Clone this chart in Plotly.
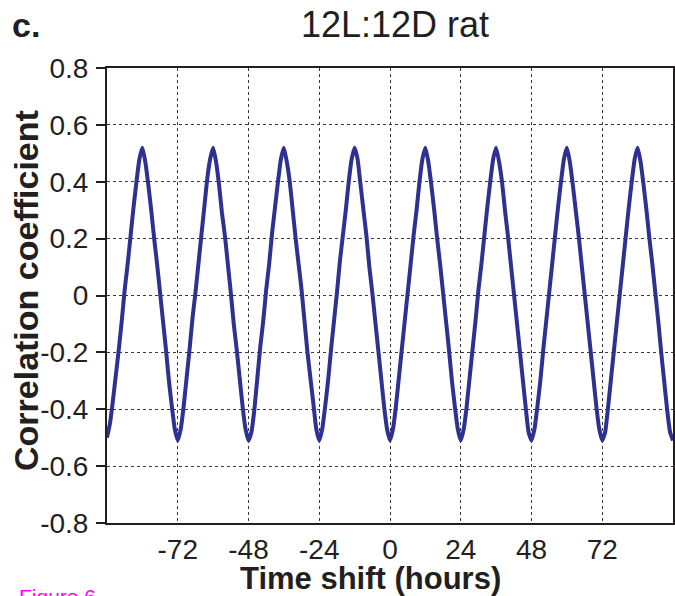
import plotly.graph_objects as go

# Time shift (hours), 1-hour steps from -96 to 96
time_shift = list(range(-96, 97))

# Correlation coefficient, one row per 24 h (starting at each trough)
correlation = [
    # -96 .. -73
    -0.50, -0.45, -0.37, -0.28, -0.19, -0.09, 0.02, 0.11, 0.21, 0.31, 0.40, 0.48,
    0.52, 0.47, 0.39, 0.30, 0.20, 0.11, 0.01, -0.09, -0.19, -0.30, -0.39, -0.47,
    # -72 .. -49
    -0.51, -0.47, -0.39, -0.29, -0.19, -0.08, 0.01, 0.11, 0.21, 0.31, 0.41, 0.48,
    0.52, 0.47, 0.39, 0.29, 0.21, 0.11, 0.01, -0.10, -0.19, -0.29, -0.39, -0.47,
    # -48 .. -25
    -0.51, -0.48, -0.40, -0.29, -0.18, -0.09, 0.02, 0.11, 0.22, 0.31, 0.40, 0.48,
    0.52, 0.47, 0.40, 0.30, 0.20, 0.11, 0.02, -0.09, -0.20, -0.29, -0.38, -0.47,
    # -24 .. -1
    -0.51, -0.47, -0.39, -0.30, -0.19, -0.09, 0.01, 0.12, 0.21, 0.30, 0.40, 0.48,
    0.52, 0.48, 0.39, 0.30, 0.21, 0.10, 0.01, -0.09, -0.19, -0.29, -0.39, -0.47,
    # 0 .. 23
    -0.51, -0.47, -0.39, -0.29, -0.19, -0.09, 0.01, 0.11, 0.21, 0.30, 0.40, 0.48,
    0.52, 0.47, 0.39, 0.30, 0.20, 0.11, 0.01, -0.09, -0.19, -0.30, -0.39, -0.47,
    # 24 .. 47
    -0.51, -0.47, -0.39, -0.29, -0.19, -0.09, 0.02, 0.11, 0.21, 0.31, 0.40, 0.48,
    0.52, 0.47, 0.40, 0.30, 0.21, 0.11, 0.01, -0.09, -0.19, -0.29, -0.39, -0.48,
    # 48 .. 71
    -0.51, -0.47, -0.39, -0.30, -0.19, -0.09, 0.01, 0.11, 0.21, 0.31, 0.40, 0.48,
    0.52, 0.47, 0.39, 0.30, 0.21, 0.11, 0.01, -0.09, -0.19, -0.29, -0.39, -0.47,
    # 72 .. 95
    -0.51, -0.48, -0.39, -0.29, -0.19, -0.09, 0.01, 0.11, 0.21, 0.31, 0.40, 0.48,
    0.52, 0.47, 0.39, 0.30, 0.20, 0.11, 0.01, -0.09, -0.20, -0.30, -0.40, -0.48,
    # 96
    -0.51,
]

x_tick_values = [-72, -48, -24, 0, 24, 48, 72]
x_tick_labels = ["-72", "-48", "-24", "0", "24", "48", "72"]
y_tick_values = [0.8, 0.6, 0.4, 0.2, 0.0, -0.2, -0.4, -0.6, -0.8]
y_tick_labels = ["0.8", "0.6", "0.4", "0.2", "0", "-0.2", "-0.4", "-0.6", "-0.8"]

INK = "#231f20"
NUM_FONT = "Liberation Sans Narrow, Arial Narrow, Liberation Sans, Arial, sans-serif"
TXT_FONT = "Liberation Sans, Arial, Helvetica, sans-serif"

W, H = 675, 596
# plot area in window pixels
L, R, T, B = 107, 673, 68, 523

fig = go.Figure()
fig.add_trace(go.Scatter(
    x=time_shift, y=correlation, mode="lines",
    line=dict(color="#2e3192", width=4, shape="spline", smoothing=0.4),
    hoverinfo="x+y", showlegend=False,
))

axis_common = dict(
    showline=True, linecolor=INK, linewidth=2, mirror=True,
    showgrid=True, gridcolor="#3a3a3a", gridwidth=1, griddash="dot",
    zeroline=False, automargin=False,
    tickfont=dict(family=NUM_FONT, size=28, color=INK),
)

fig.update_layout(
    width=W, height=H,
    margin=dict(l=L, r=W - R, t=T, b=H - B),
    paper_bgcolor="white", plot_bgcolor="white",
    xaxis=dict(range=[-96, 96], tickmode="array", tickvals=x_tick_values,
               ticktext=x_tick_labels, ticks="", **axis_common),
    yaxis=dict(range=[-0.8, 0.8], tickmode="array", tickvals=y_tick_values,
               ticktext=y_tick_labels, ticks="outside", ticklen=9, tickwidth=1.5,
               tickcolor=INK, ticklabelstandoff=2, **axis_common),
    annotations=[
        dict(text="12L:12D rat", x=395, y=25, xref="paper", yref="paper",
             showarrow=False, font=dict(family=TXT_FONT, size=36, color=INK),
             xanchor="center", yanchor="middle"),
        dict(text="<b>c.</b>", x=10, y=25, xref="paper", yref="paper",
             showarrow=False, font=dict(family=TXT_FONT, size=34, color=INK),
             xanchor="left", yanchor="middle"),
        dict(text="<b>Time shift (hours)</b>", x=370, y=578, xref="paper", yref="paper",
             showarrow=False, font=dict(family=TXT_FONT, size=31, color=INK),
             xanchor="center", yanchor="middle"),
        dict(text="<b>Correlation coefficient</b>", x=26, y=291, xref="paper", yref="paper",
             showarrow=False, textangle=-90, font=dict(family=TXT_FONT, size=34, color=INK),
             xanchor="center", yanchor="middle"),
        dict(text="Figure 6", x=17, y=583, xref="paper", yref="paper",
             showarrow=False, font=dict(family=TXT_FONT, size=21, color="#ff00ff"),
             xanchor="left", yanchor="top"),
    ],
)

# convert window-pixel positions of annotations into paper coordinates
for a in fig.layout.annotations:
    px, py = a.x, a.y
    a.x = (px - L) / (R - L)
    a.y = (B - py) / (B - T)

# let the figure start at the window's top-left corner
fig.write_html("out.html", config={"displayModeBar": False},
               post_script="document.body.style.margin='0';")
